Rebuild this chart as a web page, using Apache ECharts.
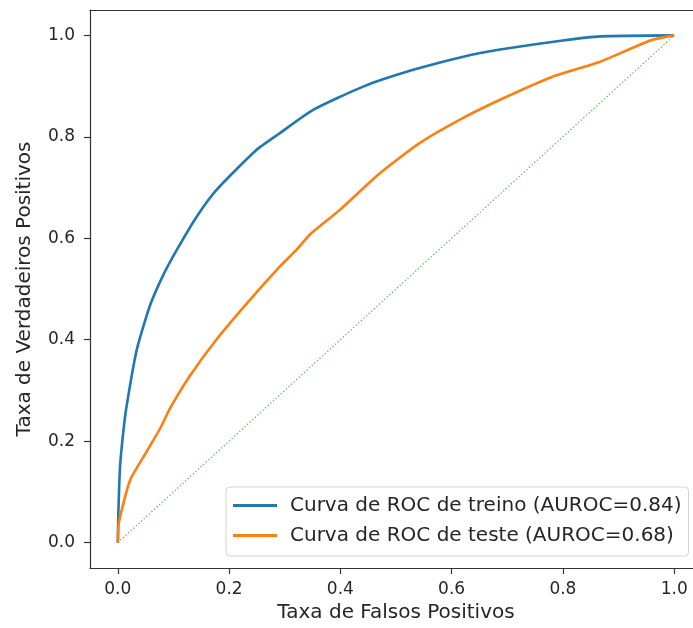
<!DOCTYPE html>
<html>
<head>
<meta charset="utf-8">
<script src="https://cdn.jsdelivr.net/npm/echarts@6/dist/echarts.min.js"></script>
<style>
  html, body { margin: 0; padding: 0; background: #fff; overflow: hidden; }
  #chart { width: 693px; height: 628px; }
</style>
</head>
<body>
<div id="chart"></div>
<script>
// curva de treino (AUROC=0.84)
var fprTrain = [0, 0.001, 0.004, 0.0096, 0.0156, 0.034, 0.058, 0.081, 0.106, 0.142, 0.177, 0.249, 0.291, 0.351, 0.441, 0.531, 0.621, 0.687, 0.8, 0.867, 1];
var tprTrain = [0, 0.06, 0.15, 0.216, 0.268, 0.38, 0.468, 0.526, 0.577, 0.643, 0.695, 0.774, 0.807, 0.853, 0.899, 0.932, 0.958, 0.972, 0.99, 0.998, 1];
// curva de teste (AUROC=0.68)
var fprTest = [0, 0.002, 0.022, 0.052, 0.076, 0.094, 0.129, 0.177, 0.237, 0.291, 0.321, 0.345, 0.399, 0.471, 0.543, 0.615, 0.687, 0.78, 0.867, 0.957, 1];
var tprTest = [0, 0.04, 0.123, 0.18, 0.225, 0.265, 0.328, 0.40, 0.478, 0.544, 0.577, 0.607, 0.656, 0.728, 0.788, 0.834, 0.873, 0.918, 0.948, 0.99, 1];
var diagX = [0, 1];
var diagY = [0, 1];
var ticks = [0, 0.2, 0.4, 0.6, 0.8, 1.0];

var nomeTreino = 'Curva de ROC de treino (AUROC=0.84)';
var nomeTeste = 'Curva de ROC de teste (AUROC=0.68)';

function pares(xs, ys) {
    return xs.map(function (x, i) { return [x, ys[i]]; });
}

var fonte = 'DejaVu Sans';
var borda = { show: true, onZero: false, lineStyle: { color: '#333', width: 1.2 } };
var rotulo = { fontFamily: fonte, fontSize: 20, color: '#262626' };
var chart = echarts.init(document.getElementById('chart'));
chart.setOption({
    animation: false,
    // a figura original está cortada à direita
    grid: {
        left: 90,
        top: 10,
        right: -9,
        bottom: 60,
        outerBoundsMode: 'none',
        containLabel: false
    },
    legend: {
        data: [nomeTreino, nomeTeste],
        orient: 'vertical',
        left: 226,
        top: 487,
        padding: [7, 7, 9, 7],
        itemWidth: 44,
        itemHeight: 3,
        itemGap: 7,
        icon: 'rect',
        borderColor: '#d4d4d4',
        borderWidth: 1,
        borderRadius: 4,
        backgroundColor: 'rgba(255,255,255,0.8)',
        textStyle: {
            fontFamily: fonte,
            fontSize: 20,
            color: '#262626',
            lineHeight: 23,
            padding: [0, 0, 0, 8]
        }
    },
    xAxis: [{
        type: 'value',
        min: -0.05,
        max: 1.05,
        name: 'Taxa de Falsos Positivos',
        nameLocation: 'middle',
        nameGap: 33,
        nameTextStyle: rotulo,
        axisLine: borda,
        splitLine: { show: false },
        axisTick: { show: true, length: 6, customValues: ticks, lineStyle: { color: '#333', width: 1.2 } },
        axisLabel: {
            customValues: ticks,
            margin: 13,
            fontFamily: fonte,
            fontSize: 17,
            color: '#262626',
            formatter: function (v) { return v.toFixed(1); }
        }
    }, {
        // borda superior
        type: 'value',
        position: 'top',
        min: -0.05,
        max: 1.05,
        axisLine: borda,
        axisTick: { show: false },
        axisLabel: { show: false },
        splitLine: { show: false }
    }],
    yAxis: {
        type: 'value',
        min: -0.05,
        max: 1.05,
        name: 'Taxa de Verdadeiros Positivos',
        nameLocation: 'middle',
        nameGap: 55,
        nameTextStyle: rotulo,
        axisLine: borda,
        splitLine: { show: false },
        axisTick: { show: true, length: 6, customValues: ticks, lineStyle: { color: '#333', width: 1.2 } },
        axisLabel: {
            customValues: ticks,
            margin: 15,
            fontFamily: fonte,
            fontSize: 17,
            color: '#262626',
            formatter: function (v) { return v.toFixed(1); }
        }
    },
    series: [{
        name: nomeTreino,
        type: 'line',
        data: pares(fprTrain, tprTrain),
        showSymbol: false,
        smooth: 0.2,
        color: '#1f77b4',
        lineStyle: { color: '#1f77b4', width: 2.6 }
    }, {
        name: nomeTeste,
        type: 'line',
        data: pares(fprTest, tprTest),
        showSymbol: false,
        smooth: 0.2,
        color: '#ff7f0e',
        lineStyle: { color: '#ff7f0e', width: 2.6 }
    }, {
        name: 'diagonal',
        type: 'line',
        data: pares(diagX, diagY),
        showSymbol: false,
        color: '#2ca02c',
        lineStyle: { color: '#2ca02c', width: 1.3, type: [1.3, 2.2], opacity: 0.75 }
    }]
});
</script>
</body>
</html>
